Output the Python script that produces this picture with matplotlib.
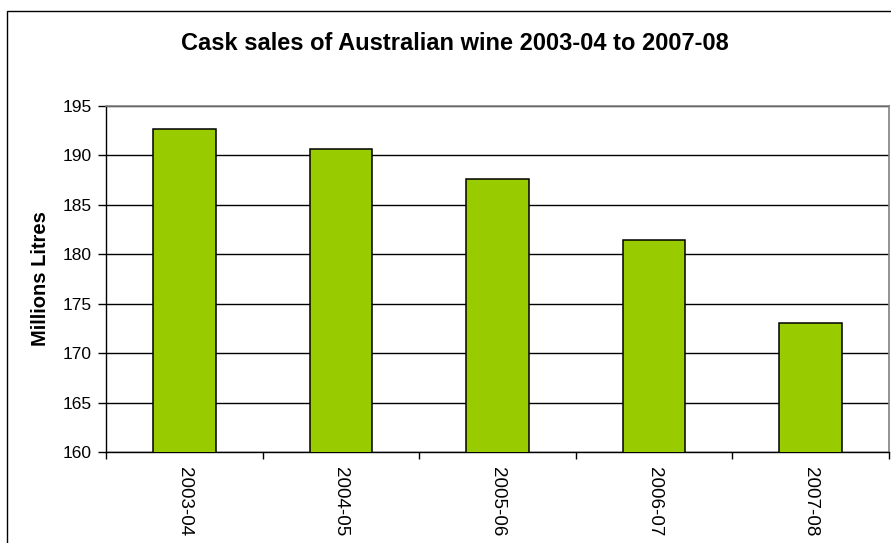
import matplotlib.pyplot as plt
from matplotlib.patches import Rectangle

plt.rcParams['font.family'] = ['Liberation Sans', 'DejaVu Sans']

# data
years = ['2003-04', '2004-05', '2005-06', '2006-07', '2007-08']
sales = [192.7, 190.7, 187.6, 181.4, 173.0]

fig = plt.figure(figsize=(8.91, 5.43), dpi=100)
W, H = 891, 543

# outer chart border (cut off at right and bottom like the original)
fig.patches.append(Rectangle((7 / W, -0.1), 1.1, (H - 11) / H + 0.1,
                             transform=fig.transFigure, fill=False,
                             edgecolor='black', linewidth=1.0))

ax = fig.add_axes([106 / W, 91 / H, (889 - 106) / W, (452 - 106) / H])

x = range(len(years))
ax.bar(x, sales, width=0.4, color='#99CC00', edgecolor='black', linewidth=1.1, zorder=3)

ax.set_ylim(160, 195)
ax.set_yticks(range(160, 196, 5))
ax.set_xlim(-0.5, len(years) - 0.5)

# category labels in the middle, ticks between categories
ax.set_xticks(list(x))
ax.set_xticklabels(years, rotation=-90, fontsize=13.5)
ax.tick_params(axis='x', which='major', length=0, pad=11)
ax.set_xticks([i - 0.5 for i in range(len(years) + 1)], minor=True)
ax.tick_params(axis='x', which='minor', length=5, width=1, direction='out')
ax.tick_params(axis='y', length=6, width=1, direction='out', labelsize=12.5, pad=4)

ax.grid(axis='y', color='black', linewidth=1.0, zorder=0)
ax.set_axisbelow(True)

for s in ['top', 'right']:
    ax.spines[s].set_color('#808080')
    ax.spines[s].set_linewidth(1.2)
for s in ['left', 'bottom']:
    ax.spines[s].set_color('black')
    ax.spines[s].set_linewidth(1.0)

ax.set_ylabel('Millions Litres', fontsize=14.5, fontweight='bold', labelpad=9)
fig.text(455 / W, 1 - 44 / H, 'Cask sales of Australian wine 2003-04 to 2007-08',
         ha='center', va='center', fontsize=17, fontweight='bold')

fig.savefig('out.png', dpi=100)
